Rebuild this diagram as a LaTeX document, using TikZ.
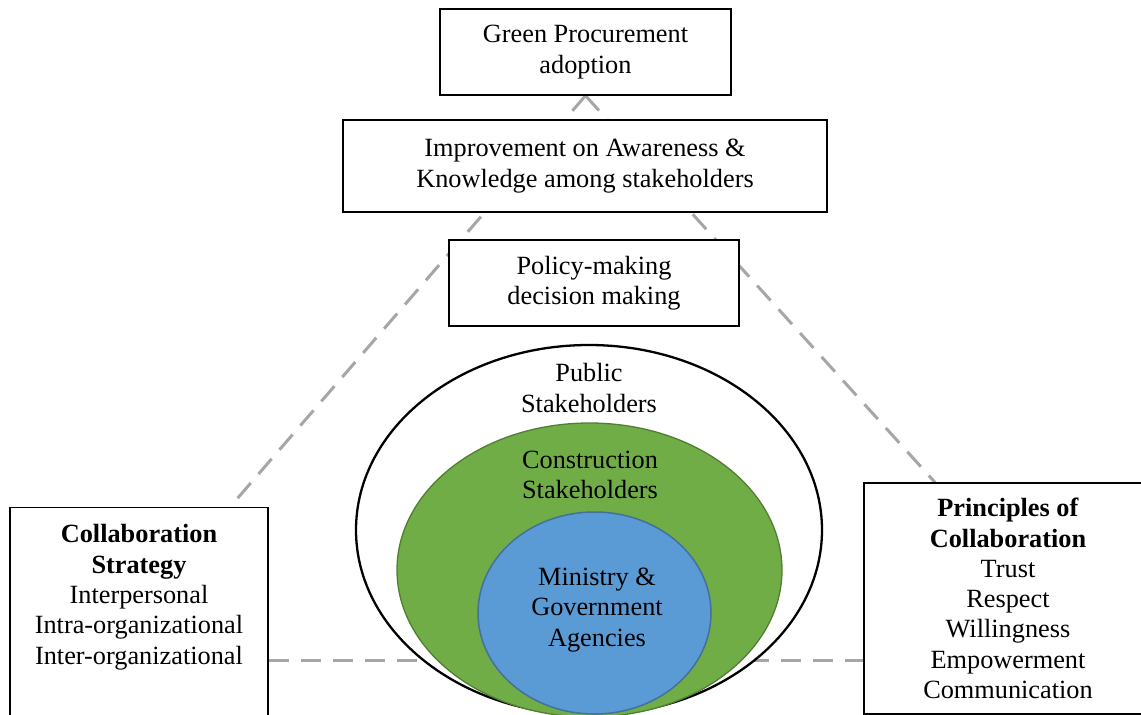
\documentclass[tikz,border=0pt]{standalone}
\usepackage{fontspec}
\setmainfont{Liberation Serif}
\usetikzlibrary{shapes.geometric}
\usetikzlibrary{backgrounds}
\definecolor{leafgreen}{HTML}{70AD47}
\definecolor{leafedge}{HTML}{507E32}
\definecolor{skyblue}{HTML}{5B9BD5}
\definecolor{skyedge}{HTML}{41719C}
\definecolor{linkgray}{HTML}{A6A6A6}
\tikzset{
box/.style = {draw=black, fill=white, line width=1.3pt, align=center,
              inner sep=0pt},
ring/.style = {ellipse, inner sep=0pt},
link/.style = {draw=linkgray, line width=3pt, dash pattern=on 20pt off 12pt},
lbl/.style = {align=center, inner sep=0pt}
}
\begin{document}
\begin{tikzpicture}[x=1pt, y=-1pt, font=\fontsize{26.3}{30.3}\selectfont]
        \useasboundingbox (0,0) rectangle (1141,715);
        
        \node[box, minimum width=291pt, minimum height=86pt] (green) at (585.5,52) {Green Procurement\\adoption};
        \node[box, minimum width=484pt, minimum height=92pt] (aware) at (585,166) {Improvement on Awareness \&\\Knowledge among stakeholders};
        \node[box, minimum width=290pt, minimum height=86pt] (policy) at (594,283) {Policy-making\\decision making};
        
        % nested stakeholder groups
        \node[ring, draw=black, line width=2.3pt, fill=white, minimum width=466pt, minimum height=370pt] (public) at (589,530) {};
        \node[ring, draw=leafedge, line width=1.3pt, fill=leafgreen, minimum width=385pt, minimum height=294pt] (constr) at (589.5,570) {};
        \node[ring, draw=skyedge, line width=1.5pt, fill=skyblue, minimum width=233pt, minimum height=202pt] (minis) at (594.5,613) {};
        \node[lbl] (publab) at (589,388) {Public\\Stakeholders};
        \node[lbl] (conlab) at (590,475) {Construction\\Stakeholders};
        \node[lbl] (minlab) at (597,610) {Ministry \&\\Government\\Agencies};
        
        \node[box, anchor=north, minimum width=258pt, inner ysep=17pt, text depth=220pt] (strat) at (139,507) {\textbf{Collaboration}\\\textbf{Strategy}\\Interpersonal\\Intra-organizational\\Inter-organizational};
        \node[box, minimum width=288pt, minimum height=231pt] (princ) at (1008,598.5) {\textbf{Principles of}\\\textbf{Collaboration}\\Trust\\Respect\\Willingness\\Empowerment\\Communication};
        
        \begin{scope}[on background layer]
        \coordinate (base) at (0,660);
        \draw[link] (green.south) -- ([xshift=91pt]strat.north);
        \draw[link] (green.south) -- ([xshift=-73pt]princ.north);
        \draw[link] (strat.east |- base) -- (princ.west |- base);
        \end{scope}
        \end{tikzpicture}
\end{document}
